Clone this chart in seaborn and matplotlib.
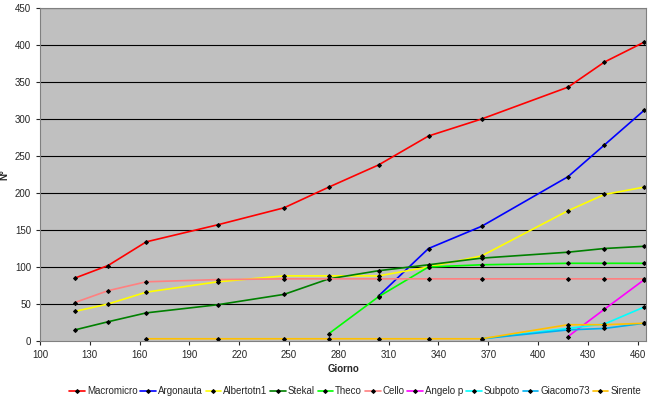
import matplotlib
matplotlib.use("Agg")
import matplotlib.pyplot as plt
import seaborn as sns
import pandas as pd

sns.set_style("white")
plt.rcParams['font.family'] = ['Liberation Sans', 'DejaVu Sans']

names = ["Macromicro","Argonauta","Albertotn1","Stekal","Theco","Cello","Angelo p","Subpoto","Giacomo73","Sirente"]
colors = ["#FF0000","#0000FF","#FFFF00","#008000","#00FF00","#FF8080","#FF00FF","#00FFFF","#00B0F0","#FFC000"]
days = [121,141,164,207,247,274,304,334,366,418,440,464]
macromicro = [85,102,134,157,180,208,238,277,300,343,377,404]
argonauta = [None]*6 + [61,125,155,222,265,312]
albertotn1 = [40,50,66,80,88,88,88,100,115,176,198,208]
stekal = [15,26,38,49,63,84,95,103,112,120,125,128]
theco = [None]*5 + [10,60,100,103,105,105,105]
cello = [52,68,80,83,84,84,84,84,84,84,84,84]
angelo = [None]*9 + [6,43,83]
subpoto = [None]*8 + [3,17,23,46]
giacomo = [None]*8 + [3,15,17,24]
sirente = [None,None,3,3,3,3,3,3,3,22,22,24]
series = [macromicro,argonauta,albertotn1,stekal,theco,cello,angelo,subpoto,giacomo,sirente]

rows = []
for n, s in zip(names, series):
    for d, v in zip(days, s):
        if v is not None:
            rows.append({"Giorno": d, "N": v, "who": n})
df = pd.DataFrame(rows)

fig = plt.figure(figsize=(6.5, 4.04), dpi=100)
ax = fig.add_axes([40/650, 63/404, 606/650, 333/404])
ax.set_facecolor("#C0C0C0")
for y in range(50, 451, 50):
    ax.axhline(y, color="black", lw=0.8, zorder=0)
sns.lineplot(data=df, x="Giorno", y="N", hue="who", hue_order=names, palette=colors,
             marker="D", markersize=2, markerfacecolor="black", markeredgecolor="black",
             lw=1.2, ax=ax, legend=True)
ax.set_xlim(100, 465)
ax.set_ylim(0, 450)
ax.set_xticks(range(100, 461, 30))
ax.set_yticks(range(0, 451, 50))
ax.tick_params(labelsize=7, length=3, direction="out", bottom=True, left=True)
ax.set_xlabel("Giorno", fontsize=7, fontweight="bold", labelpad=3)
ax.set_ylabel("N°", fontsize=7, fontweight="bold")
for sp in ax.spines.values():
    sp.set_color("#808080")
leg = ax.legend(loc="upper center", bbox_to_anchor=(0.52, -0.11), ncol=10, fontsize=7,
                frameon=False, handlelength=1.6, columnspacing=0.3, handletextpad=0.2)
fig.savefig("out.png", dpi=100)
